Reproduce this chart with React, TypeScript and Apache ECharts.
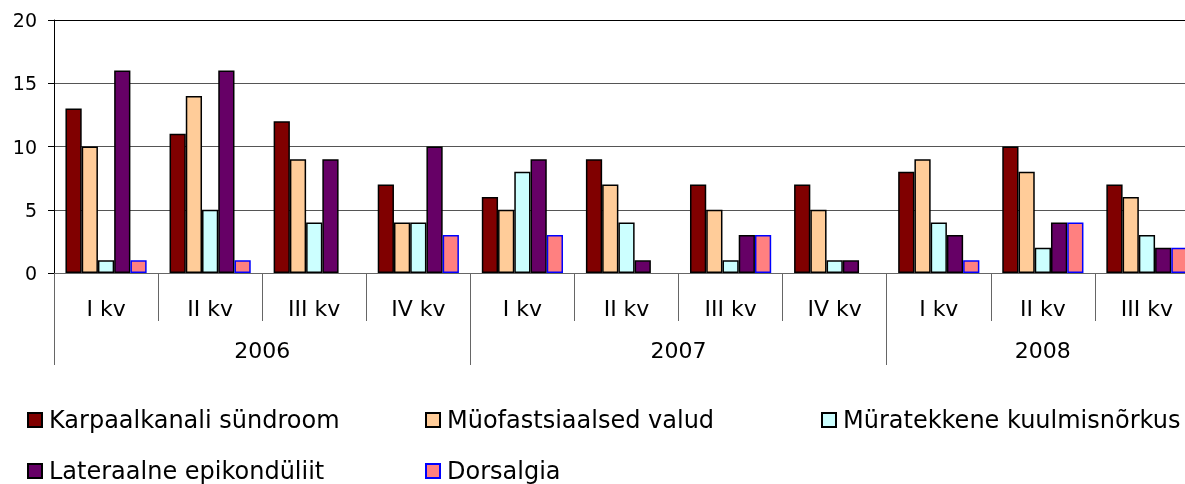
import React, { useEffect, useRef } from "react";
import * as echarts from "echarts";

const quarters = ["I kv", "II kv", "III kv", "IV kv", "I kv", "II kv", "III kv", "IV kv", "I kv", "II kv", "III kv"];
const years = ["2006", "2007", "2008"];
const yearCenters = [2, 6, 9.5];
const yearBounds = [0, 4, 8, 11];

const seriesNames = [
  "Karpaalkanali sündroom",
  "Müofastsiaalsed valud",
  "Müratekkene kuulmisnõrkus",
  "Lateraalne epikondüliit",
  "Dorsalgia",
];
const karpaal = [13, 11, 12, 7, 6, 9, 7, 7, 8, 10, 7];
const myofast = [10, 14, 9, 4, 5, 7, 5, 5, 9, 8, 6];
const myra = [1, 5, 4, 4, 8, 4, 1, 1, 4, 2, 3];
const lateral = [16, 16, 9, 10, 9, 1, 3, 1, 3, 4, 2];
const dorsalgia = [1, 1, null, 3, 3, null, 3, null, 1, 4, 2];

const colors = ["#800000", "#FFCC99", "#CCFFFF", "#660066", "#FF8080"];
const borders = ["#000000", "#000000", "#000000", "#000000", "#0000FF"];

// legend placement: [left, top] per series
const legendPos = [
  [27, 408],
  [425, 408],
  [821, 408],
  [27, 459],
  [425, 459],
];

const FONT = "DejaVu Sans";

export default function App() {
  const ref = useRef<HTMLDivElement>(null);
  useEffect(() => {
    if (!ref.current) return;
    const chart = echarts.init(ref.current, null, { renderer: "svg" });
    const data = [karpaal, myofast, myra, lateral, dorsalgia];
    chart.setOption({
      animation: false,
      textStyle: { fontFamily: FONT },
      grid: { left: 54, top: 20, width: 1145, bottom: 211, containLabel: false, outerBoundsMode: "none" },
      xAxis: [
        {
          type: "category",
          data: quarters,
          axisLine: { show: true, lineStyle: { color: "#666", width: 1 } },
          axisTick: { show: true, interval: 0, length: 48, lineStyle: { color: "#666" } },
          axisLabel: { interval: 0, margin: 24, fontSize: 22, color: "#000", fontFamily: FONT },
        },
        {
          type: "value",
          min: 0,
          max: 11,
          position: "bottom",
          axisLine: { show: false },
          splitLine: { show: false },
          axisTick: { show: true, customValues: yearBounds, length: 92, lineStyle: { color: "#666" } },
          axisLabel: {
            customValues: yearCenters,
            margin: 66,
            fontSize: 22,
            color: "#000",
            fontFamily: FONT,
            formatter: (v: number) => years[yearCenters.indexOf(v)] ?? "",
          },
        },
      ],
      yAxis: {
        type: "value",
        min: 0,
        max: 20,
        interval: 5,
        axisLine: { show: true, lineStyle: { color: "#000" } },
        axisTick: { show: true, length: 6, lineStyle: { color: "#000" } },
        axisLabel: { margin: 17, fontSize: 19, color: "#000", fontFamily: FONT },
        splitLine: { show: true, lineStyle: { color: ["#555", "#555", "#555", "#555", "#000"], width: 1 } },
      },
      legend: seriesNames.map((name, i) => ({
        left: legendPos[i][0],
        top: legendPos[i][1],
        padding: 0,
        itemWidth: 14,
        itemHeight: 14,
        icon: "rect",
        data: [name],
        textStyle: { fontFamily: FONT, fontSize: 24, color: "#000", lineHeight: 24, padding: [0, 0, 0, 2] },
      })),
      series: seriesNames.map((name, i) => ({
        name,
        type: "bar",
        xAxisIndex: 0,
        data: data[i],
        barGap: "0%",
        barCategoryGap: "22%",
        itemStyle: { color: colors[i], borderColor: borders[i], borderWidth: 1.5 },
      })),
    });
    return () => chart.dispose();
  }, []);
  return <div ref={ref} style={{ position: "fixed", left: 0, top: 0, width: 1185, height: 484 }} />;
}
